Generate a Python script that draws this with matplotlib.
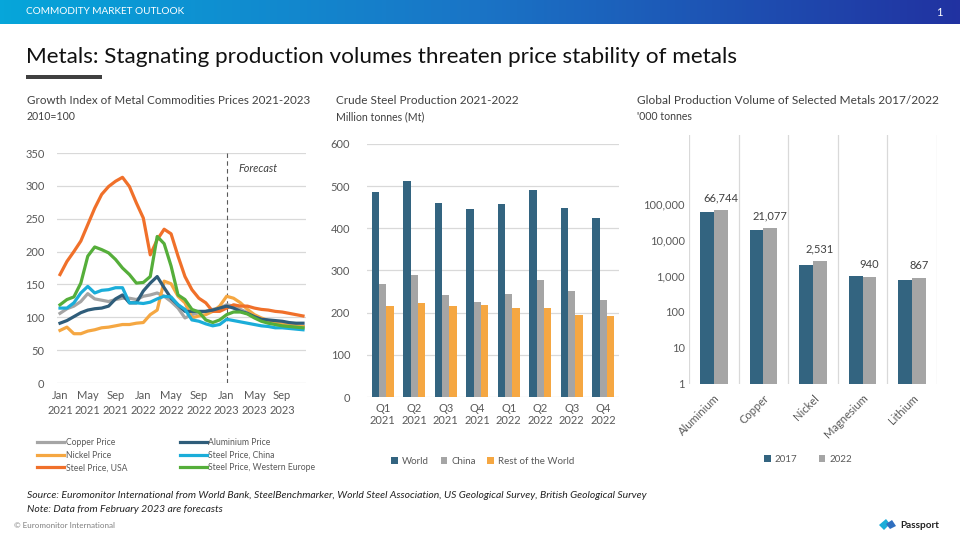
import numpy as np
import matplotlib
matplotlib.use("Agg")
import matplotlib.pyplot as plt
from matplotlib.colors import LinearSegmentedColormap
from matplotlib.patches import Polygon, Rectangle

plt.rcParams["font.family"] = ["Lato", "DejaVu Sans"]

# ----------------------------------------------------------------------------
# Data
# ----------------------------------------------------------------------------
MONTH_TICKS = ["Jan\n2021", "May\n2021", "Sep\n2021", "Jan\n2022", "May\n2022",
               "Sep\n2022", "Jan\n2023", "May\n2023", "Sep\n2023"]
FORECAST_IDX = 24          # Jan 2023

copper = [106, 113, 117, 124, 136, 128, 126, 124, 127, 129, 129, 127,
          132, 134, 137, 132, 124, 114, 99, 104, 107, 109, 112, 114,
          119, 117, 112, 107, 101, 96, 94, 91, 90, 89, 87, 86]
aluminium = [91, 95, 101, 107, 111, 113, 114, 117, 128, 134, 122, 122,
             140, 152, 162, 145, 129, 119, 109, 109, 109, 109, 111, 114,
             117, 114, 109, 106, 101, 97, 96, 95, 94, 92, 91, 91]
nickel = [80, 85, 75, 75, 79, 81, 84, 85, 87, 89, 89, 91,
          92, 104, 111, 155, 151, 132, 122, 99, 102, 104, 109, 117,
          132, 129, 122, 112, 104, 99, 95, 92, 90, 89, 87, 86]
steel_china = [114, 114, 122, 137, 147, 137, 141, 142, 145, 145, 122, 122,
               121, 123, 128, 132, 131, 119, 112, 96, 94, 90, 87, 89,
               97, 95, 93, 91, 89, 87, 86, 84, 84, 83, 82, 81]
steel_usa = [165, 185, 200, 216, 241, 266, 287, 299, 307, 313, 299, 274,
             251, 195, 218, 234, 227, 193, 162, 142, 129, 122, 109, 109,
             114, 119, 117, 117, 114, 112, 111, 109, 108, 106, 104, 102]
steel_weu = [119, 127, 131, 152, 193, 207, 203, 198, 188, 175, 165, 152,
             153, 162, 223, 212, 178, 134, 127, 112, 108, 96, 92, 96,
             104, 108, 108, 105, 99, 94, 91, 89, 87, 86, 85, 84]

QUARTERS = ["Q1\n2021", "Q2\n2021", "Q3\n2021", "Q4\n2021",
            "Q1\n2022", "Q2\n2022", "Q3\n2022", "Q4\n2022"]
steel_world = [487, 512, 461, 447, 458, 491, 448, 424]
steel_cn = [268, 289, 241, 225, 244, 277, 251, 230]
steel_rotw = [215, 223, 215, 218, 211, 211, 194, 192]

METALS = ["Aluminium", "Copper", "Nickel", "Magnesium", "Lithium"]
vol_2017 = [60000, 19500, 2020, 1020, 790]
vol_2022 = [66744, 21077, 2531, 940, 867]

# colours
C_COPPER = "#A5A5A5"
C_ALU = "#2F5D7A"
C_NICKEL = "#F5A742"
C_CHINA = "#1BADD9"
C_USA = "#F0702A"
C_WEU = "#55AE3A"
C_BAR_DARK = "#336480"
TXT = "#404040"
TICK = "#595959"
GRID = "#D9D9D9"

W, H = 960, 540
fig = plt.figure(figsize=(W / 100, H / 100), dpi=100)


def px_axes(x0, y0, x1, y1, **kw):
    """Axes placed by pixel box (top-left origin)."""
    return fig.add_axes([x0 / W, 1 - y1 / H, (x1 - x0) / W, (y1 - y0) / H], **kw)


def ftext(x, y, s, **kw):
    return fig.text(x / W, 1 - y / H, s, **kw)


# ----------------------------------------------------------------------------
# Header band, title, underline
# ----------------------------------------------------------------------------
bg = px_axes(0, 0, W, H)
bg.set_xlim(0, W); bg.set_ylim(H, 0); bg.axis("off")
cmap = LinearSegmentedColormap.from_list("hdr", ["#06A6DA", "#1A74C6", "#2132A1"])
bg.imshow(np.linspace(0, 1, 256)[None, :], cmap=cmap, aspect="auto",
          extent=(0, W, 24, 0), zorder=0)
bg.add_patch(Rectangle((26, 75), 76, 4, color="#404040", lw=0))
ftext(26, 12, "COMMODITY MARKET OUTLOOK", color="white", fontsize=7.2,
      va="center", ha="left")
ftext(943, 12, "1", color="white", fontsize=8, va="center", ha="right")
ftext(26, 57, "Metals: Stagnating production volumes threaten price stability of metals",
      fontsize=16.2, color="#111111", va="center", ha="left")

# ----------------------------------------------------------------------------
# Panel 1: price index lines
# ----------------------------------------------------------------------------
ftext(27, 101, "Growth Index of Metal Commodities Prices 2021-2023", fontsize=8.4,
      color=TXT, va="center")
ftext(27, 117, "2010=100", fontsize=7.6, color=TXT, va="center")

step = 243 / 35
ax1 = px_axes(57, 153, 306, 383)
x = np.arange(len(copper))
series = [("Copper Price", copper, C_COPPER),
          ("Nickel Price", nickel, C_NICKEL),
          ("Steel Price, USA", steel_usa, C_USA),
          ("Aluminium Price", aluminium, C_ALU),
          ("Steel Price, China", steel_china, C_CHINA),
          ("Steel Price, Western Europe", steel_weu, C_WEU)]
draw_order = [0, 3, 1, 4, 5, 2]
for i in draw_order:
    lbl, vals, col = series[i]
    ax1.plot(x, vals, color=col, lw=2.3, solid_joinstyle="round", zorder=3 + i * 0.1)
handles = [ax1.lines[draw_order.index(i)] for i in range(6)]
labels = [s[0] for s in series]
ax1.set_xlim(-3 / step, 35 + 3 / step)
ax1.set_ylim(0, 350)
ax1.set_yticks(np.arange(0, 351, 50))
ax1.set_xticks(np.arange(0, 36, 4))
ax1.set_xticklabels(MONTH_TICKS, linespacing=1.45)
ax1.yaxis.grid(True, color=GRID, lw=0.9)
ax1.set_axisbelow(True)
for sp in ax1.spines.values():
    sp.set_visible(False)
ax1.tick_params(length=0, labelsize=8, colors=TICK)
ax1.tick_params(axis="y", pad=9)
ax1.tick_params(axis="x", pad=5)
ax1.axvline(FORECAST_IDX, color="#595959", lw=0.8, ls=(0, (4, 3)), zorder=2)
ax1.text(FORECAST_IDX + 1.7, 327, "Forecast", fontsize=7.8, style="italic",
         color=TXT, va="center", ha="left")
fig.legend(handles, labels, loc="upper left",
           bbox_to_anchor=(29 / W, 1 - 430 / H), ncol=2, frameon=False,
           fontsize=6.2, handlelength=3.2, handletextpad=0.15,
           columnspacing=6.1, labelspacing=0.45, labelcolor=TICK)

# ----------------------------------------------------------------------------
# Panel 2: crude steel production bars
# ----------------------------------------------------------------------------
ftext(336, 101, "Crude Steel Production 2021-2022", fontsize=8.5, color=TXT, va="center")
ftext(336, 117, "Million tonnes (Mt)", fontsize=7.6, color=TXT, va="center")

ax2 = px_axes(367, 144, 619, 397)
q = np.arange(len(QUARTERS))
bw = 0.23
ax2.bar(q - bw, steel_world, bw, color=C_BAR_DARK, label="World", zorder=3)
ax2.bar(q, steel_cn, bw, color=C_COPPER, label="China", zorder=3)
ax2.bar(q + bw, steel_rotw, bw, color=C_NICKEL, label="Rest of the World", zorder=3)
ax2.set_xlim(-0.5, 7.5)
ax2.set_ylim(0, 600)
ax2.set_yticks(np.arange(0, 601, 100))
ax2.set_xticks(q)
ax2.set_xticklabels(QUARTERS, linespacing=1.2)
ax2.yaxis.grid(True, color=GRID, lw=0.9)
ax2.set_axisbelow(True)
for sp in ax2.spines.values():
    sp.set_visible(False)
ax2.tick_params(length=0, labelsize=8, colors=TICK)
ax2.tick_params(axis="y", pad=12)
ax2.tick_params(axis="x", pad=4)
ax2.legend(loc="center", bbox_to_anchor=(0.46, (397 - 461) / 253), ncol=3,
           frameon=False, fontsize=7, handlelength=0.7, handleheight=0.7,
           handletextpad=0.4, columnspacing=1.2, labelcolor=TICK)

# ----------------------------------------------------------------------------
# Panel 3: global production volume (log scale)
# ----------------------------------------------------------------------------
ftext(637, 101, "Global Production Volume of Selected Metals 2017/2022", fontsize=8.6,
      color=TXT, va="center")
ftext(637, 117, "'000 tonnes", fontsize=7.6, color=TXT, va="center")

ax3 = px_axes(689, 135, 937, 384)
m = np.arange(len(METALS))
bw3 = 0.28
ax3.bar(m - bw3 / 2, vol_2017, bw3, color=C_BAR_DARK, label="2017", zorder=3)
b22 = ax3.bar(m + bw3 / 2, vol_2022, bw3, color=C_COPPER, label="2022", zorder=3)
ax3.set_yscale("log")
ax3.set_ylim(1, 10 ** (249 / 36))
ax3.set_xlim(-0.5, len(METALS) - 0.5)
yt = [1, 10, 100, 1000, 10000, 100000]
ax3.set_yticks(yt)
ax3.set_yticklabels([f"{v:,}" for v in yt])
ax3.yaxis.set_minor_locator(matplotlib.ticker.NullLocator())
ax3.set_xticks(m)
ax3.set_xticklabels(METALS, rotation=45, ha="right", rotation_mode="anchor")
ax3.set_xticks(np.arange(-0.5, len(METALS)), minor=True)
ax3.xaxis.grid(True, which="minor", color=GRID, lw=0.9)
ax3.set_axisbelow(True)
for sp in ax3.spines.values():
    sp.set_visible(False)
ax3.tick_params(which="both", length=0, labelsize=8, colors=TICK)
ax3.tick_params(axis="y", pad=3)
ax3.tick_params(axis="x", pad=6)
for rect, v in zip(b22, vol_2022):
    ax3.annotate(f"{v:,}", (rect.get_x() + rect.get_width() / 2, v),
                 xytext=(0, 5), textcoords="offset points", ha="center",
                 va="bottom", fontsize=8, color=TXT)
ax3.legend(loc="center", bbox_to_anchor=((808 - 689) / 248, (384 - 459) / 249),
           ncol=2, frameon=False, fontsize=7, handlelength=0.7, handleheight=0.7,
           handletextpad=0.4, columnspacing=2.2, labelcolor=TICK)

# ----------------------------------------------------------------------------
# Footer
# ----------------------------------------------------------------------------
ftext(27, 496, "Source: Euromonitor International from World Bank, SteelBenchmarker, "
      "World Steel Association, US Geological Survey, British Geological Survey",
      fontsize=7.5, style="italic", color="#222222", va="center")
ftext(27, 509, "Note: Data from February 2023 are forecasts", fontsize=7.5,
      style="italic", color="#222222", va="center")
ftext(14, 525, "\u00a9 Euromonitor International", fontsize=5.8, color="#7F7F7F",
      va="center")
# small Passport mark
bg.add_patch(Polygon([(879, 525), (886, 519), (890, 524), (884, 530)],
                     closed=True, color="#1BADD9", lw=0))
bg.add_patch(Polygon([(886, 524), (892, 520), (896, 526), (890, 529)],
                     closed=True, color="#2F6FBF", lw=0))
ftext(900, 525, "Passport", fontsize=7.2, color="#222222", va="center",
      fontweight="bold")

fig.savefig("out.png", dpi=100)
